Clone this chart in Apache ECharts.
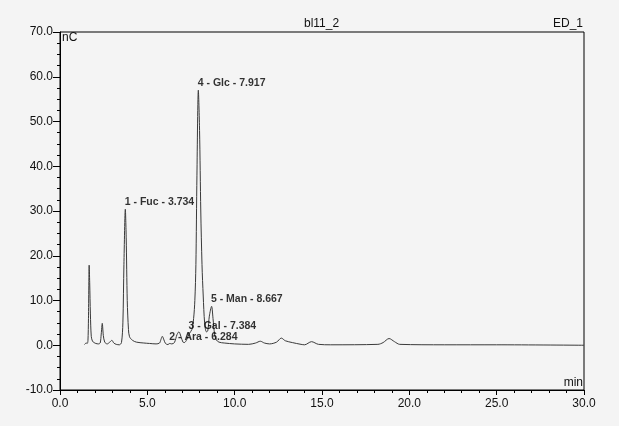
<!DOCTYPE html>
<html>
<head>
<meta charset="utf-8">
<script src="https://cdn.jsdelivr.net/npm/echarts@6/dist/echarts.min.js"></script>
<style>
html,body{margin:0;padding:0;background:#f4f4f4;}
#c{width:619px;height:426px;}
</style>
</head>
<body>
<div id="c"></div>
<script>
// Chromatogram trace: time (min) and signal (nC)
var times = [1.40,1.50,1.56,1.60,1.63,1.67,1.70,1.74,1.79,1.86,1.95,2.05,2.20,2.30,2.36,2.42,2.48,2.56,2.70,2.85,2.97,3.08,3.22,3.40,3.52,3.60,3.66,3.74,3.79,3.85,3.92,3.98,4.15,4.37,4.80,5.13,5.50,5.70,5.78,5.86,5.95,6.04,6.18,6.28,6.40,6.55,6.70,6.81,6.92,7.04,7.12,7.25,7.40,7.55,7.65,7.72,7.78,7.84,7.92,7.99,8.06,8.13,8.20,8.28,8.38,8.46,8.55,8.68,8.76,8.85,8.95,9.10,9.40,10.00,10.80,11.20,11.47,11.70,12.00,12.40,12.67,12.90,13.30,13.80,14.00,14.40,14.80,15.50,18.20,18.50,18.84,19.15,19.45,22.00,25.00,30.00];
var signal = [0.15,0.5,0.4,1.0,6.0,17.9,14.0,7.0,2.0,0.9,0.6,0.4,0.3,0.5,2.5,4.9,2.2,0.7,0.3,0.7,1.1,0.5,0.2,0.1,0.6,5.0,18.0,30.4,24.0,10.0,3.5,1.9,1.1,0.7,0.5,0.4,0.3,0.5,1.3,2.0,1.2,0.4,0.15,0.4,0.3,0.6,2.4,3.0,2.0,0.7,0.6,1.2,2.6,3.5,6.0,10.0,18.0,38.0,57.0,48.0,30.0,18.0,11.0,5.0,3.0,3.2,6.5,8.7,6.0,2.5,1.2,0.7,0.5,0.3,0.2,0.5,0.9,0.5,0.3,0.7,1.6,1.0,0.6,0.2,0.1,0.8,0.2,0.1,0.2,0.6,1.5,0.8,0.2,0.1,0.1,0.0];

// Peak annotations
var peakNames = ['1 - Fuc - 3.734','2 - Ara - 6.284','3 - Gal - 7.384','4 - Glc - 7.917','5 - Man - 8.667'];
var peakTimes = [3.734, 6.284, 7.384, 7.917, 8.667];
var peakHeights = [30.4, 0.3, 2.7, 57.0, 8.7];

// Axis ticks
var xTicks = [0,5,10,15,20,25,30];
var yTicks = [-10,0,10,20,30,40,50,60,70];

var chart = echarts.init(document.getElementById('c'), null, {renderer:'canvas'});
var font = 'Arial, "Liberation Sans", sans-serif';
var trace = times.map(function(t,i){return [t, signal[i]];});
var labels = peakTimes.map(function(t,i){return {value:[t, peakHeights[i]], name: peakNames[i]};});

chart.setOption({
  backgroundColor:'#f4f4f4',
  animation:false,
  grid:{left:60, right:35, top:32, bottom:36, show:true, borderColor:'#000', borderWidth:1, backgroundColor:'transparent'},
  graphic:[
    {type:'text', left:304, top:18, style:{text:'bl11_2', font:'12px '+font, fill:'#111'}},
    {type:'text', right:36, top:18, style:{text:'ED_1', font:'12px '+font, fill:'#111'}},
    {type:'text', left:62, top:32, style:{text:'nC', font:'12px '+font, fill:'#111'}},
    {type:'text', right:36, top:377, style:{text:'min', font:'12px '+font, fill:'#111'}}
  ],
  xAxis:{
    type:'value', min:xTicks[0], max:xTicks[xTicks.length-1], interval:5,
    axisLine:{show:true, onZero:false, lineStyle:{color:'#000', width:1}},
    axisTick:{show:true, length:5, lineStyle:{color:'#000'}},
    minorTick:{show:true, splitNumber:5, length:3, lineStyle:{color:'#000'}},
    splitLine:{show:false},
    axisLabel:{margin:8, color:'#111', fontSize:12, fontFamily:font, formatter:function(v){return v.toFixed(1);}}
  },
  yAxis:{
    type:'value', min:yTicks[0], max:yTicks[yTicks.length-1], interval:10,
    axisLine:{show:true, onZero:false, lineStyle:{color:'#000', width:1}},
    axisTick:{show:true, length:7, lineStyle:{color:'#000'}},
    minorTick:{show:true, splitNumber:4, length:3, lineStyle:{color:'#000'}},
    splitLine:{show:false},
    axisLabel:{margin:7, color:'#111', fontSize:12, fontFamily:font, formatter:function(v){return v.toFixed(1);}}
  },
  series:[
    {
      type:'line', data:trace, showSymbol:false, symbol:'none', smooth:0.3,
      lineStyle:{color:'#3a3a3a', width:1}, z:2
    },
    {
      type:'scatter', data:labels, symbolSize:1, itemStyle:{color:'rgba(0,0,0,0)'}, z:3,
      label:{show:true, position:[0,-1], align:'left', verticalAlign:'bottom',
        formatter:function(p){return p.name;}, fontSize:10.5, fontWeight:'bold', fontFamily:font, color:'#000'}
    }
  ]
});
</script>
</body>
</html>
